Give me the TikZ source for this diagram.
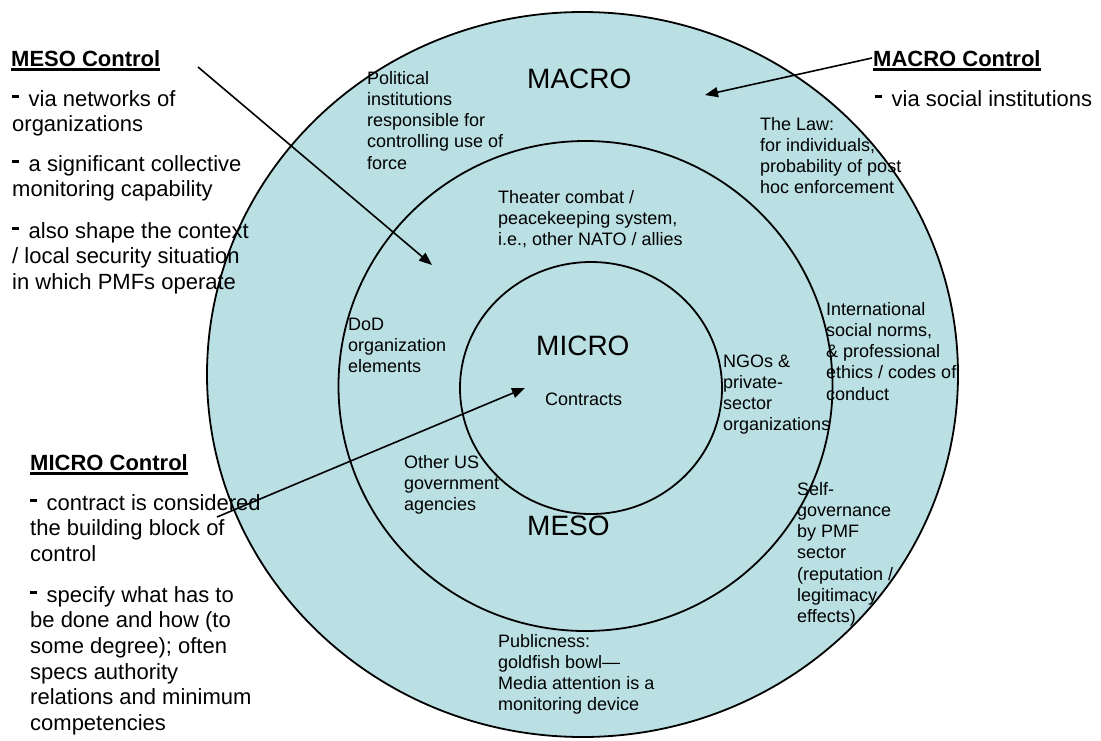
\documentclass[tikz,border=0pt]{standalone}
\usepackage{fontspec}
\setmainfont{Liberation Sans}
\usetikzlibrary{arrows.meta}
\definecolor{ringfill}{RGB}{186,224,228}
\newcommand{\dsh}{\rule[8.5pt]{7pt}{3pt}\hspace{9.5pt}}
\newcommand{\myul}[1]{\setbox0=\hbox{#1}\rlap{\rule[-4.8pt]{\wd0}{2.4pt}}\box0}
\tikzset{
  ring/.style={draw=black, line width=1.8pt, fill=ringfill},
  side/.style={anchor=base west, inner sep=0pt, align=left, font=\fontsize{22}{25.5}\selectfont},
  sidem/.style={anchor=base west, inner sep=0pt, align=left, font=\fontsize{22}{25.7}\selectfont},
  head/.style={anchor=base west, inner sep=0pt, font=\fontsize{22}{25.5}\selectfont\bfseries},
  lab/.style={anchor=base west, inner sep=0pt, align=left, font=\fontsize{18}{21.3}\selectfont},
  big/.style={anchor=base west, inner sep=0pt, font=\fontsize{28}{32}\selectfont},
  ptr/.style={draw=black, line width=1.6pt, -{Triangle[length=13pt,width=10pt]}}
}
\begin{document}
\begin{tikzpicture}[x=1pt,y=-1pt]
\useasboundingbox (0,0) rectangle (1101,740);
% rings
\draw[ring] (582.5,374.5) ellipse [x radius=375.5pt, y radius=362.5pt];
\draw[ring] (585.5,386) ellipse [x radius=247pt, y radius=245pt];
\draw[ring] (591,388) ellipse [x radius=131pt, y radius=126pt];
% big labels (anchor = baseline of the last line)
\node[big] (macro) at (527,88) {MACRO};
\node[big] (micro) at (536,355) {MICRO};
\node[big] (meso) at (527,535) {MESO};
\node[lab] (contracts) at (545,405) {Contracts};
% circle labels
\node[lab] (political) at (367,169.2) {Political\\institutions\\responsible for\\controlling use of\\force};
\node[lab] (law) at (760,193.9) {The Law:\\for individuals,\\probability of post\\hoc enforcement};
\node[lab] (theater) at (498,245.6) {Theater combat /\\peacekeeping system,\\i.e., other NATO / allies};
\node[lab] (dod) at (348,372.6) {DoD\\organization\\elements};
\node[lab] (ngo) at (723,430.9) {NGOs \&\\private-\\sector\\organizations};
\node[lab] (intl) at (826,400.2) {International\\social norms,\\\& professional\\ethics / codes of\\conduct};
\node[lab] (self) at (797,622.8) {Self-\\governance\\by PMF\\sector\\(reputation /\\legitimacy\\effects)};
\node[lab] (otherus) at (404,510.6) {Other US\\government\\agencies};
\node[lab] (public) at (498,710.9) {Publicness:\\goldfish bowl—\\Media attention is a\\monitoring device};
% side texts
\node[head] (mesoh) at (11,66) {\myul{MESO Control}};
\node[side] (mesot) at (12,289) {\dsh via networks of\\organizations\\[14pt]\dsh a significant collective\\monitoring capability\\[16pt]\dsh also shape the context\\/ local security situation\\in which PMFs operate};
\node[head] (macroh) at (873,66) {\myul{MACRO Control}};
\node[side] (macrot) at (875,106) {\dsh via social institutions};
\node[head] (microh) at (30,470) {\myul{MICRO Control}};
\node[sidem] (microt) at (30,730.6) {\dsh contract is considered\\the building block of\\control\\[15pt]\dsh specify what has to\\be done and how (to\\some degree); often\\specs authority\\relations and minimum\\competencies};
% arrows
\coordinate (mesoS) at (198,67);
\coordinate (mesoE) at (432,265);
\coordinate (macroS) at (872,58);
\coordinate (macroE) at (705,95);
\coordinate (microS) at (217,517);
\coordinate (microE) at (525,388);
\draw[ptr] (mesoS) -- (mesoE);
\draw[ptr] (macroS) -- (macroE);
\draw[ptr] (microS) -- (microE);
\end{tikzpicture}
\end{document}
